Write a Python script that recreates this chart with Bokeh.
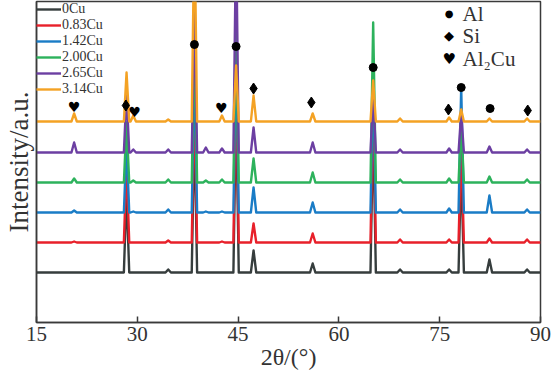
from bokeh.plotting import figure
from bokeh.models import Range1d, FixedTicker, Legend, LegendItem, Label
from bokeh.core.properties import value
from bokeh.embed import file_html
from bokeh.resources import INLINE

# ---------------- data ----------------
series_names = ["0Cu", "0.83Cu", "1.42Cu", "2.00Cu", "2.65Cu", "3.14Cu"]
series_colors = ["#363d3d", "#e8202a", "#1a7cc6", "#2db25c", "#6c3fa2", "#f4a224"]
series_offsets = [50, 80, 110, 140, 170, 201]

peaks_2theta = [20.6, 28.4, 29.4, 34.6, 38.5, 40.2, 42.6, 44.7, 47.3, 56.1, 65.1, 69.1, 76.4, 78.2, 82.4, 88.0]

h_0Cu   = [0, 80, 0, 3, 150, 0, 0, 170, 22, 9, 150, 3, 3, 110, 13, 3]
h_083Cu = [1, 80, 0, 2, 150, 0, 1, 170, 19, 9, 150, 3, 3, 100, 4, 3]
h_142Cu = [2, 70, 1, 3, 150, 1, 1, 170, 25, 10, 140, 3, 4, 125, 17, 3]
h_200Cu = [4, 60, 2, 3, 150, 2, 3, 170, 24, 10, 160, 3, 4, 60, 6, 3]
h_265Cu = [10, 60, 3, 3, 140, 5, 4, 220, 25, 10, 60, 3, 4, 40, 6, 3]
h_314Cu = [8, 49, 6, 2, 200, 0, 6, 56, 26, 8, 41, 3, 4, 12, 3, 3]
series_heights = [h_0Cu, h_083Cu, h_142Cu, h_200Cu, h_265Cu, h_314Cu]

al_x = [38.5, 44.7, 65.1, 78.2, 82.5]
al_y = [278, 276, 255, 235, 214]
si_x = [28.3, 47.3, 55.9, 76.3, 88.1]
si_y = [217, 234, 220, 213, 212]
cu_x = [20.6, 29.6, 42.5]
cu_y = [216, 211, 215]

x_ticks = [15, 30, 45, 60, 75, 90]

# ---------------- figure ----------------
p = figure(width=552, height=379, output_backend="svg", toolbar_location=None,
           x_range=Range1d(15, 90), y_range=Range1d(0, 321),
           min_border_left=36, min_border_right=12, min_border_top=1, min_border_bottom=57)
p.background_fill_color = "white"
p.border_fill_color = "white"
p.outline_line_color = "#3a3a3a"
p.outline_line_width = 1.5
p.grid.visible = False

SERIF = "Liberation Serif"

p.xaxis.ticker = FixedTicker(ticks=x_ticks)
p.xaxis.major_tick_in = 6
p.xaxis.major_tick_out = 0
p.xaxis.minor_tick_line_color = None
p.xaxis.axis_line_width = 1.5
p.xaxis.axis_line_color = "#3a3a3a"
p.xaxis.major_tick_line_color = "#3a3a3a"
p.xaxis.major_tick_line_width = 1.5
p.xaxis.major_label_text_font = SERIF
p.xaxis.major_label_text_font_size = "21px"
p.xaxis.major_label_text_color = "#333333"
p.xaxis.major_label_standoff = 4
p.xaxis.axis_label = "2θ/(°)"
p.xaxis.axis_label_text_font = SERIF
p.xaxis.axis_label_text_font_size = "24px"
p.xaxis.axis_label_text_font_style = "normal"
p.xaxis.axis_label_text_color = "#333333"
p.xaxis.axis_label_standoff = 0

p.yaxis.ticker = FixedTicker(ticks=[])
p.yaxis.major_tick_in = 0
p.yaxis.major_tick_out = 0
p.yaxis.minor_tick_line_color = None
p.yaxis.axis_line_width = 1.5
p.yaxis.axis_line_color = "#3a3a3a"
p.yaxis.axis_label = "Intensity/a.u."
p.yaxis.axis_label_text_font = SERIF
p.yaxis.axis_label_text_font_size = "27px"
p.yaxis.axis_label_text_font_style = "normal"
p.yaxis.axis_label_text_color = "#333333"
p.yaxis.axis_label_standoff = 3

HW = 0.4
items = []
for name, color, base, heights in zip(series_names, series_colors, series_offsets, series_heights):
    xs = [15.0]
    ys = [base]
    for pos, h in zip(peaks_2theta, heights):
        xs += [pos - HW, pos, pos + HW]
        ys += [base, base + h, base]
    xs.append(90.0)
    ys.append(base)
    r = p.line(xs, ys, line_color=color, line_width=2.4, line_join="round")
    items.append(LegendItem(label=name, renderers=[r]))

legend = Legend(items=items, location="top_left", margin=0, padding=2,
                label_text_font=SERIF, label_text_font_size="14px", label_text_color="#333333",
                glyph_width=25, glyph_height=14, label_height=14, spacing=0, label_standoff=1,
                border_line_color=None, background_fill_alpha=0)
p.add_layout(legend)

# phase markers
p.scatter(al_x, al_y, marker="circle", size=8, fill_color="black", line_color="black")
p.scatter(si_x, si_y, marker="diamond", size=11, fill_color="black", line_color="black")
p.text(x=cu_x, y=cu_y, text=["♥"] * len(cu_x), text_font=value("DejaVu Sans"),
       text_font_size="14px", text_align="center", text_baseline="middle", text_color="black")

# phase legend
leg_sym = ["●", "◆", "♥"]
leg_txt = ["Al", "Si", "Al₂Cu"]
leg_sym_size = ["10px", "13px", "15px"]
leg_ys = [309, 287, 264]
for s, t, fs, yy in zip(leg_sym, leg_txt, leg_sym_size, leg_ys):
    p.add_layout(Label(x=76.4, y=yy, text=s, text_font="DejaVu Sans", text_font_size=fs,
                       text_align="center", text_baseline="middle", text_color="black"))
    p.add_layout(Label(x=78.4, y=yy, text=t, text_font=SERIF, text_font_size="21px",
                       text_align="left", text_baseline="middle", text_color="#333333"))

open("out.html", "w").write(file_html(p, INLINE))
